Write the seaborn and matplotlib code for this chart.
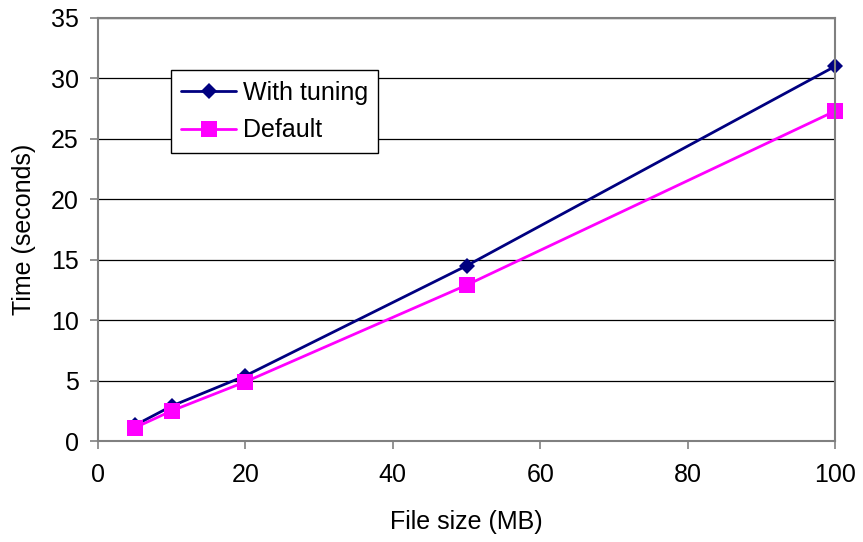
import matplotlib
matplotlib.use("Agg")
import matplotlib.pyplot as plt
import seaborn as sns
import pandas as pd

file_size = [5, 10, 20, 50, 100]
with_tuning = [1.3, 2.9, 5.4, 14.5, 31.0]
default = [1.1, 2.5, 4.9, 12.9, 27.3]
series_names = ["With tuning", "Default"]

df = pd.DataFrame({
    "size": file_size * 2,
    "time": with_tuning + default,
    "series": [series_names[0]] * len(file_size) + [series_names[1]] * len(file_size),
})

sns.set_style("white")
plt.rcParams['font.family'] = ['Liberation Sans', 'DejaVu Sans']
plt.rcParams['text.color'] = 'black'
plt.rcParams['axes.labelcolor'] = 'black'

fig = plt.figure(figsize=(8.63, 5.42), dpi=100)
ax = fig.add_axes([0.1136, 0.1863, 0.854, 0.7805])

sns.lineplot(data=df, x="size", y="time", hue="series", style="series",
             palette={"With tuning": "#000080", "Default": "#FF00FF"},
             markers={"With tuning": "D", "Default": "s"},
             dashes=False, markersize=9, linewidth=2.0, ax=ax,
             markeredgewidth=0)
for line in ax.get_lines():
    if line.get_marker() == "s":
        line.set_markersize(12)
    elif line.get_marker() == "D":
        line.set_markersize(8)
    line.set_clip_on(False)

ax.set_xlim(0, 100)
ax.set_ylim(0, 35)
ax.set_xticks([0, 20, 40, 60, 80, 100])
ax.set_yticks(range(0, 36, 5))
ax.yaxis.grid(True, color="black", linewidth=0.9)
ax.set_axisbelow(True)
for s in ["top", "right", "left", "bottom"]:
    ax.spines[s].set_color("#808080")
    ax.spines[s].set_linewidth(1.5)
ax.tick_params(axis="both", direction="out", length=6, width=1.2, color="#808080",
               labelsize=18, labelcolor="black", bottom=True, left=True)
ax.tick_params(axis="x", pad=10)
ax.tick_params(axis="y", pad=8)
ax.set_xlabel("File size (MB)", fontsize=18, color="black")
ax.set_ylabel("Time (seconds)", fontsize=18, color="black")
ax.xaxis.set_label_coords(0.5, -0.163)
ax.yaxis.set_label_coords(-0.084, 0.5)

leg = ax.legend(loc="upper left", bbox_to_anchor=(0.099, 0.877), fontsize=18,
                frameon=True, fancybox=False, framealpha=1, edgecolor="black",
                handlelength=2.2, borderpad=0.42, labelspacing=0.55,
                handletextpad=0.25, borderaxespad=0)
leg.get_frame().set_linewidth(1.0)
for t in leg.get_texts():
    t.set_color("black")
for h in leg.legend_handles:
    if h.get_marker() == "s":
        h.set_markersize(12)
    else:
        h.set_markersize(8)

fig.savefig("out.png", dpi=100)
